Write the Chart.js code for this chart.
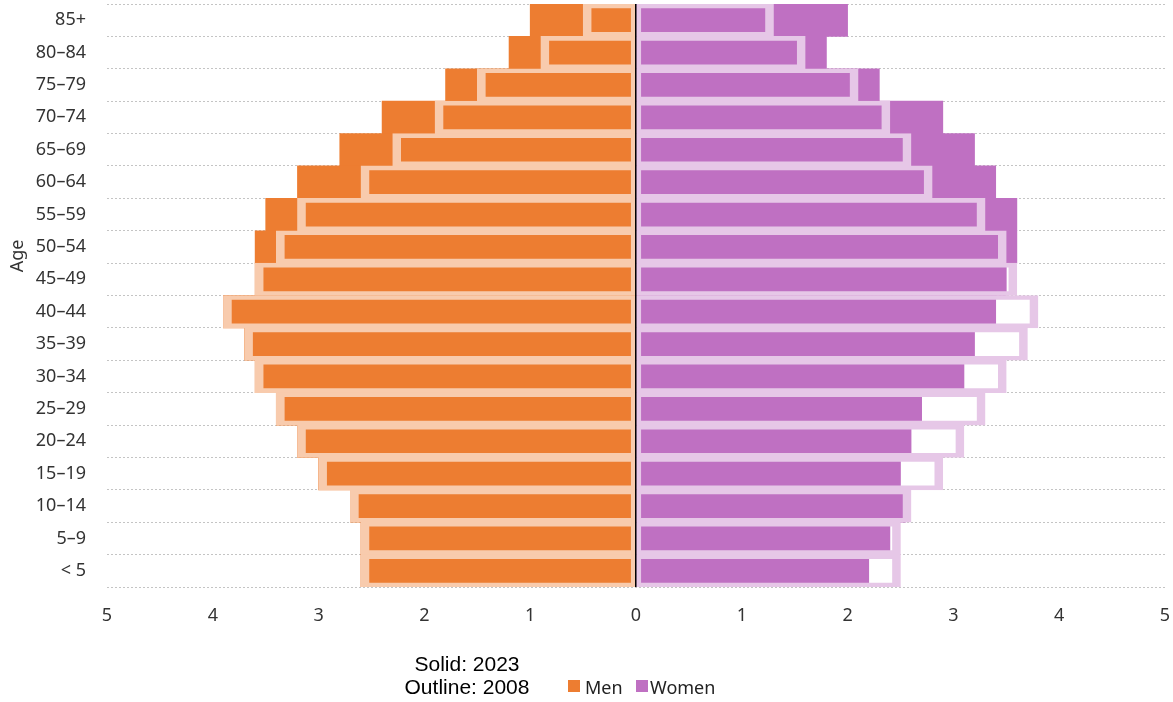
<!DOCTYPE html>
<html>
<head>
<meta charset="utf-8">
<script src="https://cdn.jsdelivr.net/npm/chart.js@4/dist/chart.umd.min.js"></script>
<style>
  body { margin: 0; background: #fff; }
  #wrap { position: relative; width: 1173px; height: 702px; }
  #age {
    position: absolute; left: -36.5px; top: 246px; width: 100px; height: 20px;
    line-height: 20px; text-align: center; transform: rotate(-90deg);
    font: 18px "Noto Sans"; color: #333;
  }
  #years {
    position: absolute; left: 360px; top: 652px; width: 214px; text-align: center;
    font: 21px "Liberation Sans", Arial; line-height: 23px; color: #000;
  }
  .sq { position: absolute; top: 680px; width: 12px; height: 12px; }
  .lbl { position: absolute; top: 675px; height: 22px; line-height: 22px; font: 18px "Noto Sans"; color: #222; }
</style>
</head>
<body>
<div id="wrap">
  <canvas id="pyramid" width="1173" height="702"></canvas>
  <div id="age">Age</div>
  <div id="years">Solid: 2023<br>Outline: 2008</div>
  <span class="sq" style="left:568px;background:#ED7D31"></span>
  <span class="lbl" style="left:585px">Men</span>
  <span class="sq" style="left:636px;background:#BF70C2"></span>
  <span class="lbl" style="left:650px">Women</span>
</div>
<script>
// share of population (%) by age group, top row first
const ageGroups = ['85+', '80–84', '75–79', '70–74', '65–69', '60–64', '55–59', '50–54', '45–49',
    '40–44', '35–39', '30–34', '25–29', '20–24', '15–19', '10–14', '5–9', '< 5'];
const men2023 = [1.0, 1.2, 1.8, 2.4, 2.8, 3.2, 3.5, 3.6, 3.6, 3.9, 3.7, 3.6, 3.4, 3.2, 3.0, 2.7, 2.6, 2.6];
const women2023 = [2.0, 1.8, 2.3, 2.9, 3.2, 3.4, 3.6, 3.6, 3.5, 3.4, 3.2, 3.1, 2.7, 2.6, 2.5, 2.55, 2.4, 2.2];
const men2008 = [0.5, 0.9, 1.5, 1.9, 2.3, 2.6, 3.2, 3.4, 3.6, 3.9, 3.7, 3.6, 3.4, 3.2, 3.0, 2.7, 2.6, 2.6];
const women2008 = [1.3, 1.6, 2.1, 2.4, 2.6, 2.8, 3.3, 3.5, 3.6, 3.8, 3.7, 3.5, 3.3, 3.1, 2.9, 2.6, 2.5, 2.5];
const xTicks = [-5, -4, -3, -2, -1, 0, 1, 2, 3, 4, 5];

const tickFont = { family: 'Noto Sans', size: 18 };

new Chart(document.getElementById('pyramid'), {
    type: 'bar',
    data: {
        labels: ageGroups,
        datasets: [
            {
                label: 'Men',
                data: men2023.map(v => -v),
                backgroundColor: '#ED7D31',
                borderWidth: 0,
                order: 2
            },
            {
                label: 'Women',
                data: women2023,
                backgroundColor: '#BF70C2',
                borderWidth: 0,
                order: 2
            },
            {
                label: 'Men 2008',
                data: men2008.map(v => -v),
                backgroundColor: 'rgba(0,0,0,0)',
                borderColor: '#F8CBAD',
                borderWidth: { top: 4, bottom: 4, left: 8, right: 4 },
                borderSkipped: false,
                order: 1
            },
            {
                label: 'Women 2008',
                data: women2008,
                backgroundColor: 'rgba(0,0,0,0)',
                borderColor: '#E6C7E7',
                borderWidth: { top: 4, bottom: 4, left: 4, right: 8 },
                borderSkipped: false,
                order: 1
            }
        ]
    },
    options: {
        indexAxis: 'y',
        responsive: false,
        animation: false,
        grouped: false,
        barPercentage: 1,
        categoryPercentage: 1,
        layout: { padding: { top: 4, right: 8, left: 0, bottom: 0 } },
        plugins: {
            legend: { display: false },
            tooltip: { enabled: false }
        },
        scales: {
            x: {
                min: -5,
                max: 5,
                afterBuildTicks: scale => { scale.ticks = xTicks.map(v => ({ value: v })); },
                afterFit: scale => {
                    scale.height = 115;
                    scale.paddingLeft = 0;
                    scale.paddingRight = 0;
                },
                border: { display: false },
                grid: {
                    z: 1,   // zero line sits on top of the bars
                    drawTicks: false,
                    lineWidth: 1.5,
                    color: ctx => ctx.tick && ctx.tick.value === 0 ? '#000' : 'rgba(0,0,0,0)'
                },
                ticks: {
                    padding: 18,
                    color: '#333',
                    font: tickFont,
                    callback: v => Math.abs(v)
                }
            },
            y: {
                afterFit: scale => {
                    scale.width = 107;
                    scale.paddingTop = 0;
                    scale.paddingBottom = 0;
                },
                border: { display: false, dash: [2, 2] },
                grid: {
                    drawTicks: false,
                    color: '#c4c4c4',
                    lineWidth: 1
                },
                ticks: {
                    padding: 21,
                    color: '#333',
                    font: tickFont
                }
            }
        }
    }
});
</script>
</body>
</html>
